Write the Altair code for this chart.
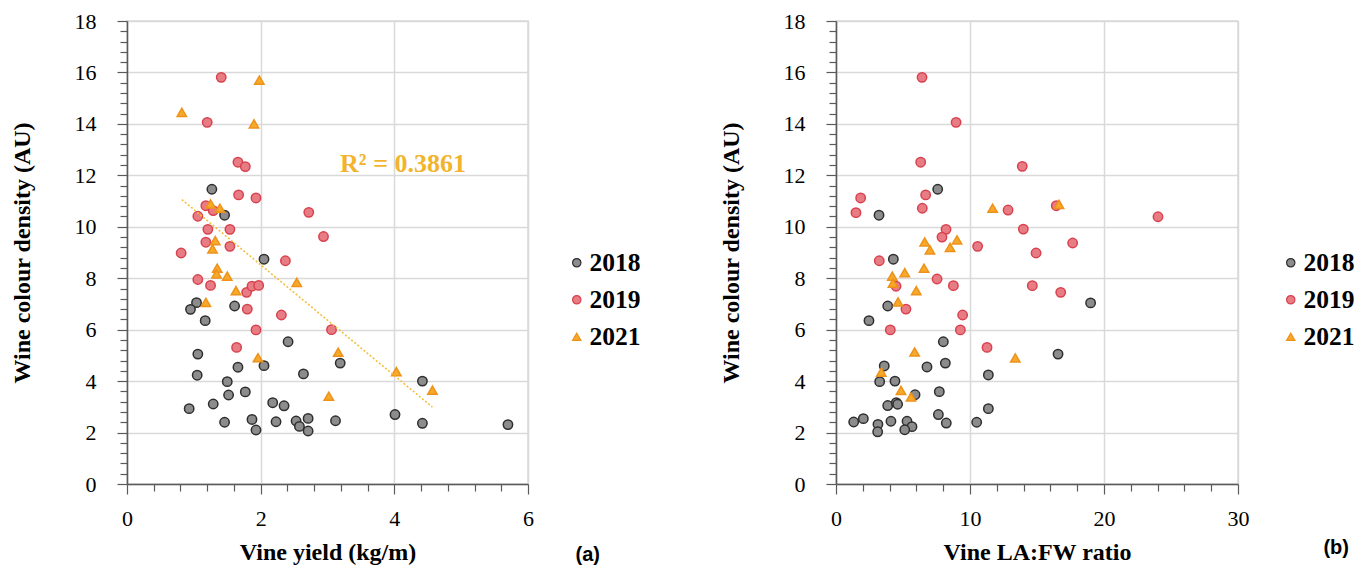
import altair as alt
import pandas as pd

YEARS = ["2018", "2019", "2021"]
FILLS = ["#8C8C8C", "#E87C84", "#F7A928"]
STROKES = ["#2E2E2E", "#D8424E", "#EE921C"]
SHAPES = ["circle", "circle", "triangle-up"]

# ---- Panel (a): vine yield (kg/m) vs wine colour density ----
a18_x = [1.27, 1.46, 2.05, 1.04, 0.95, 1.61, 1.17, 2.41, 1.06, 1.66, 2.05, 1.05, 1.50, 1.52, 1.77, 0.93, 1.29,
         2.18, 2.35, 1.46, 1.87, 1.93, 2.23, 2.53, 2.58, 2.71, 2.71, 3.12, 4.01, 4.42, 5.70, 3.19, 2.64, 4.42]
a18_y = [11.46, 10.45, 8.74, 7.05, 6.79, 6.92, 6.35, 5.53, 5.05, 4.54, 4.60, 4.23, 3.98, 3.46, 3.58, 2.93, 3.11,
         3.16, 3.04, 2.40, 2.51, 2.10, 2.42, 2.45, 2.24, 2.55, 2.06, 2.46, 2.70, 2.36, 2.31, 4.70, 4.28, 4.00]
a19_x = [1.41, 1.20, 1.66, 1.77, 1.67, 1.93, 1.18, 1.29, 1.06, 1.21, 1.54, 1.18, 1.54, 0.81, 2.37, 1.06, 1.25,
         1.79, 1.87, 1.97, 1.80, 2.31, 1.93, 1.64, 2.72, 2.94, 3.06]
a19_y = [15.81, 14.06, 12.51, 12.34, 11.24, 11.12, 10.82, 10.63, 10.41, 9.90, 9.90, 9.40, 9.24, 8.98, 8.68, 7.95,
         7.72, 7.45, 7.69, 7.72, 6.80, 6.57, 5.99, 5.31, 10.56, 9.62, 6.00]
a21_x = [1.98, 0.82, 1.90, 1.25, 1.39, 1.32, 1.28, 1.35, 1.34, 1.50, 1.63, 2.54, 1.18, 1.96, 3.16, 4.03, 4.57, 3.02]
a21_y = [15.70, 14.45, 14.00, 10.89, 10.72, 9.46, 9.14, 8.39, 8.17, 8.08, 7.52, 7.84, 7.06, 4.91, 5.12, 4.37,
         3.65, 3.41]

# ---- Panel (b): vine LA:FW ratio vs wine colour density ----
b18_x = [7.59, 3.21, 4.28, 3.86, 2.46, 8.01, 3.60, 6.79, 8.16, 11.37, 3.26, 4.40, 5.90, 7.71, 3.86, 4.50, 4.60,
         11.37, 7.64, 1.32, 2.04, 3.13, 3.11, 4.10, 5.30, 5.67, 5.13, 8.23, 10.50, 19.00, 16.57]
b18_y = [11.46, 10.45, 8.74, 6.92, 6.35, 5.53, 4.59, 4.55, 4.70, 4.24, 3.98, 4.00, 3.47, 3.59, 3.05, 3.16, 3.10,
         2.93, 2.70, 2.41, 2.54, 2.32, 2.03, 2.44, 2.44, 2.23, 2.11, 2.37, 2.40, 7.04, 5.05]
b19_x = [6.42, 8.96, 6.32, 13.90, 1.84, 6.69, 1.49, 6.44, 12.84, 13.98, 8.21, 7.91, 10.57, 3.23, 7.54, 4.48, 8.76,
         5.22, 9.45, 4.05, 9.28, 11.27, 16.44, 24.03, 17.66, 14.93, 14.65, 16.77]
b19_y = [15.81, 14.06, 12.51, 12.35, 11.12, 11.24, 10.55, 10.72, 10.65, 9.91, 9.90, 9.60, 9.24, 8.68, 7.97, 7.69,
         7.71, 6.80, 6.57, 5.99, 5.99, 5.31, 10.82, 10.39, 9.37, 8.98, 7.71, 7.45]
b21_x = [11.69, 9.03, 6.62, 8.51, 7.01, 6.57, 5.13, 4.20, 4.25, 5.99, 4.63, 5.87, 13.38, 3.38, 4.85, 5.60, 16.64]
b21_y = [10.72, 9.49, 9.41, 9.20, 9.10, 8.39, 8.22, 8.08, 7.81, 7.52, 7.08, 5.13, 4.90, 4.35, 3.64, 3.38, 10.87]

# R² annotation (panel a)
r2_label = ["R² = 0.3861"]
r2_x = [4.13]
r2_y = [12.45]

# axis ticks
y_ticks = [round(i * 0.4, 1) for i in range(46)]          # 0 .. 18, minor every 0.4
a_x_ticks = [round(i * 0.4, 1) for i in range(16)]        # 0 .. 6
b_x_ticks = [i * 2 for i in range(16)]                    # 0 .. 30

SERIF = "Liberation Serif"
AXIS_DARK = "#5A5A5A"


def make_df(xs, ys):
    rows = []
    for yr, x, y in zip(YEARS, xs, ys):
        for xi, yi in zip(x, y):
            rows.append({"x": xi, "y": yi, "Year": yr})
    return pd.DataFrame(rows)


def major_test(step):
    return f"abs(datum.value/{step} - round(datum.value/{step})) < 0.001"


def axis(values, step, title, is_y):
    t = major_test(step)
    return alt.Axis(
        values=values,
        title=title,
        labelExpr=f"{t} ? format(datum.value, 'd') : ''",
        tickSize={"condition": {"test": t, "value": 10}, "value": 7},
        gridOpacity={"condition": {"test": t, "value": 1}, "value": 0},
        labelFlush=False,
        labelOverlap=False,
        labelFont=SERIF,
        labelFontSize=22,
        labelPadding=21 if is_y else 14,
        titlePadding=40 if is_y else 11,
    )


def legend(lx):
    return alt.Legend(
        title=None, orient="none", legendX=lx, legendY=229,
        labelFont=SERIF, labelFontWeight="bold", labelFontSize=25.5, labelColor="black",
        symbolSize=70, symbolStrokeWidth=1.2, rowPadding=10, labelOffset=0, padding=0,
    )


def panel(df, xdom, xvals, xstep, xtitle, tag, lx, tag_dx, tag_dy, w, trend_df=None):
    lg = legend(lx)
    x_enc = alt.X("x:Q", scale=alt.Scale(domain=xdom, nice=False), axis=axis(xvals, xstep, xtitle, False))
    y_enc = alt.Y("y:Q", scale=alt.Scale(domain=[0, 18], nice=False),
                  axis=axis(y_ticks, 2, "Wine colour density (AU)", True))
    pts = alt.Chart(df).mark_point(filled=True, size=88, strokeWidth=1.5, opacity=1).encode(
        x=x_enc,
        y=y_enc,
        fill=alt.Fill("Year:N", scale=alt.Scale(domain=YEARS, range=FILLS), legend=lg),
        stroke=alt.Stroke("Year:N", scale=alt.Scale(domain=YEARS, range=STROKES), legend=lg),
        shape=alt.Shape("Year:N", scale=alt.Scale(domain=YEARS, range=SHAPES), legend=lg),
    )
    layers = [pts]
    if trend_df is not None:
        line = alt.Chart(trend_df).transform_regression("x", "y").mark_line(
            color="#F5BE3A", strokeDash=[2, 2], strokeWidth=1.6
        ).encode(x=x_enc, y=y_enc)
        txt = alt.Chart(pd.DataFrame({"x": r2_x, "y": r2_y, "t": r2_label})).mark_text(
            font=SERIF, fontWeight="bold", fontSize=26, color="#F2B42C"
        ).encode(x=x_enc, y=y_enc, text="t:N")
        layers = [pts, line, txt]
    return alt.layer(*layers).properties(
        width=w, height=463,
        title=alt.TitleParams(tag, orient="bottom", anchor="end", frame="bounds", font="Liberation Sans",
                              fontWeight="bold", fontSize=20, dx=tag_dx, dy=tag_dy, offset=0),
    )


df_a = make_df([a18_x, a19_x, a21_x], [a18_y, a19_y, a21_y])
df_b = make_df([b18_x, b19_x, b21_x], [b18_y, b19_y, b21_y])
df_a21 = pd.DataFrame({"x": a21_x, "y": a21_y})

left = panel(df_a, [0, 6], a_x_ticks, 2, "Vine yield (kg/m)", "(a)", 437, -41, -19, 401, df_a21)
right = panel(df_b, [0, 30], b_x_ticks, 10, "Vine LA:FW ratio", "(b)", 442, -6, -26, 402)

chart = alt.hconcat(left, right, spacing=76).resolve_legend(
    fill="independent", stroke="independent", shape="independent"
).properties(
    padding={"left": 9, "top": 9, "right": 0, "bottom": 0},
    background="white",
).configure_view(
    stroke="#D9D9D9", strokeWidth=1.5
).configure_axis(
    domainColor=AXIS_DARK, tickColor=AXIS_DARK, domainWidth=1.5, tickWidth=1.2,
    gridColor="#D9D9D9", gridWidth=1.5,
    labelFont=SERIF, labelFontSize=22, labelColor="black",
    titleFont=SERIF, titleFontSize=24, titleFontWeight="bold", titleColor="black",
)

chart.save("out.html", embed_options={"renderer": "svg", "actions": False})
